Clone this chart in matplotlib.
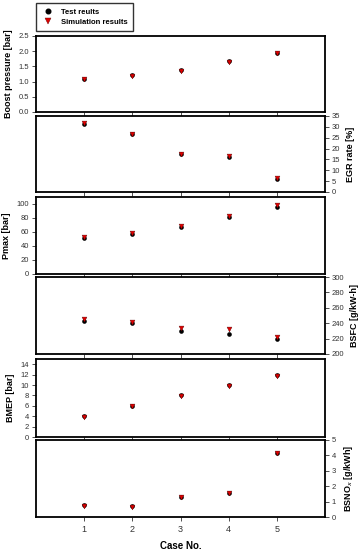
import matplotlib
matplotlib.use("Agg")
import matplotlib.pyplot as plt
from matplotlib.lines import Line2D

cases = [1, 2, 3, 4, 5]
boost_test = [1.08, 1.21, 1.37, 1.67, 1.94]
boost_sim = [1.07, 1.19, 1.36, 1.66, 1.93]
egr_test = [31.5, 26.5, 17.3, 16.1, 6.0]
egr_sim = [31.7, 26.7, 17.6, 16.4, 6.3]
pmax_test = [52, 57, 67, 82, 96]
pmax_sim = [53, 58, 68, 83, 98]
bsfc_test = [243, 240, 230, 226, 219]
bsfc_sim = [245, 241, 234, 232, 222]
bmep_test = [4.0, 6.0, 8.0, 10.0, 12.0]
bmep_sim = [3.9, 5.9, 7.8, 9.9, 11.7]
nox_test = [0.75, 0.70, 1.30, 1.55, 4.15]
nox_sim = [0.72, 0.67, 1.28, 1.53, 4.15]

panels = [
    ("Boost pressure [bar]", boost_test, boost_sim, (0, 2.5), [0.0, 0.5, 1.0, 1.5, 2.0, 2.5], "%.1f", "left"),
    ("EGR rate [%]", egr_test, egr_sim, (0, 35), [0, 5, 10, 15, 20, 25, 30, 35], "%d", "right"),
    ("Pmax [bar]", pmax_test, pmax_sim, (0, 110), [0, 20, 40, 60, 80, 100], "%d", "left"),
    ("BSFC [g/kW-h]", bsfc_test, bsfc_sim, (200, 300), [200, 220, 240, 260, 280, 300], "%d", "right"),
    ("BMEP [bar]", bmep_test, bmep_sim, (0, 15), [0, 2, 4, 6, 8, 10, 12, 14], "%d", "left"),
    ("BSNO$_x$ [g/kWh]", nox_test, nox_sim, (0, 5), [0, 1, 2, 3, 4, 5], "%d", "right"),
]

W, H = 363, 550
fig = plt.figure(figsize=(W / 100, H / 100), dpi=100)
plt.rcParams['font.family'] = ['Liberation Sans', 'DejaVu Sans']

bounds = [(36, 112), (116, 192), (197, 274), (277, 354), (359, 437), (440, 517)]
left_px, right_px = 36, 325

for i, ((label, t, s, ylim, yticks, fmt, side), (top, bot)) in enumerate(zip(panels, bounds)):
    ax = fig.add_axes([left_px / W, 1 - bot / H, (right_px - left_px) / W, (bot - top) / H])
    ax.scatter(cases, t, marker="o", s=11, color="black", zorder=3, linewidths=0)
    ax.scatter(cases, s, marker="v", s=12, color="#e00000", edgecolors="#600000", linewidths=0.3, zorder=4)
    ax.set_xlim(0, 6)
    ax.set_ylim(*ylim)
    ax.set_xticks(cases)
    ax.set_yticks(yticks)
    ax.set_yticklabels([fmt % v for v in yticks])
    for sp in ax.spines.values():
        sp.set_linewidth(1.3)
    ax.tick_params(axis="x", direction="out", length=3, width=0.6, labelsize=6.5, colors="#333333",
                   labelbottom=(i == 5), pad=3)
    ax.tick_params(axis="y", direction="out", length=3, width=0.6, labelsize=5.5, colors="#333333", pad=2)
    if side == "right":
        ax.yaxis.tick_right()
        ax.yaxis.set_label_position("right")
    ax.set_ylabel(label, fontsize=6.5, fontweight="bold", labelpad=4)
    if i == 5:
        ax.set_xlabel("Case No.", fontsize=7, fontweight="bold", labelpad=5)

handles = [
    Line2D([], [], marker="o", linestyle="none", color="black", markersize=3.3),
    Line2D([], [], marker="v", linestyle="none", color="#e00000", markeredgecolor="#600000",
           markeredgewidth=0.3, markersize=3.8),
]
leg = fig.legend(handles, ["Test reults", "Simulation results"], loc="upper left",
                 bbox_to_anchor=(36 / W, 1 - 3 / H), frameon=True, fancybox=False,
                 edgecolor="black", borderpad=0.7, handletextpad=0.8, labelspacing=0.4,
                 borderaxespad=0, handlelength=1.8,
                 prop={"weight": "bold", "size": 5.5})
leg.get_frame().set_linewidth(1.0)

fig.savefig("out.png", dpi=100)
